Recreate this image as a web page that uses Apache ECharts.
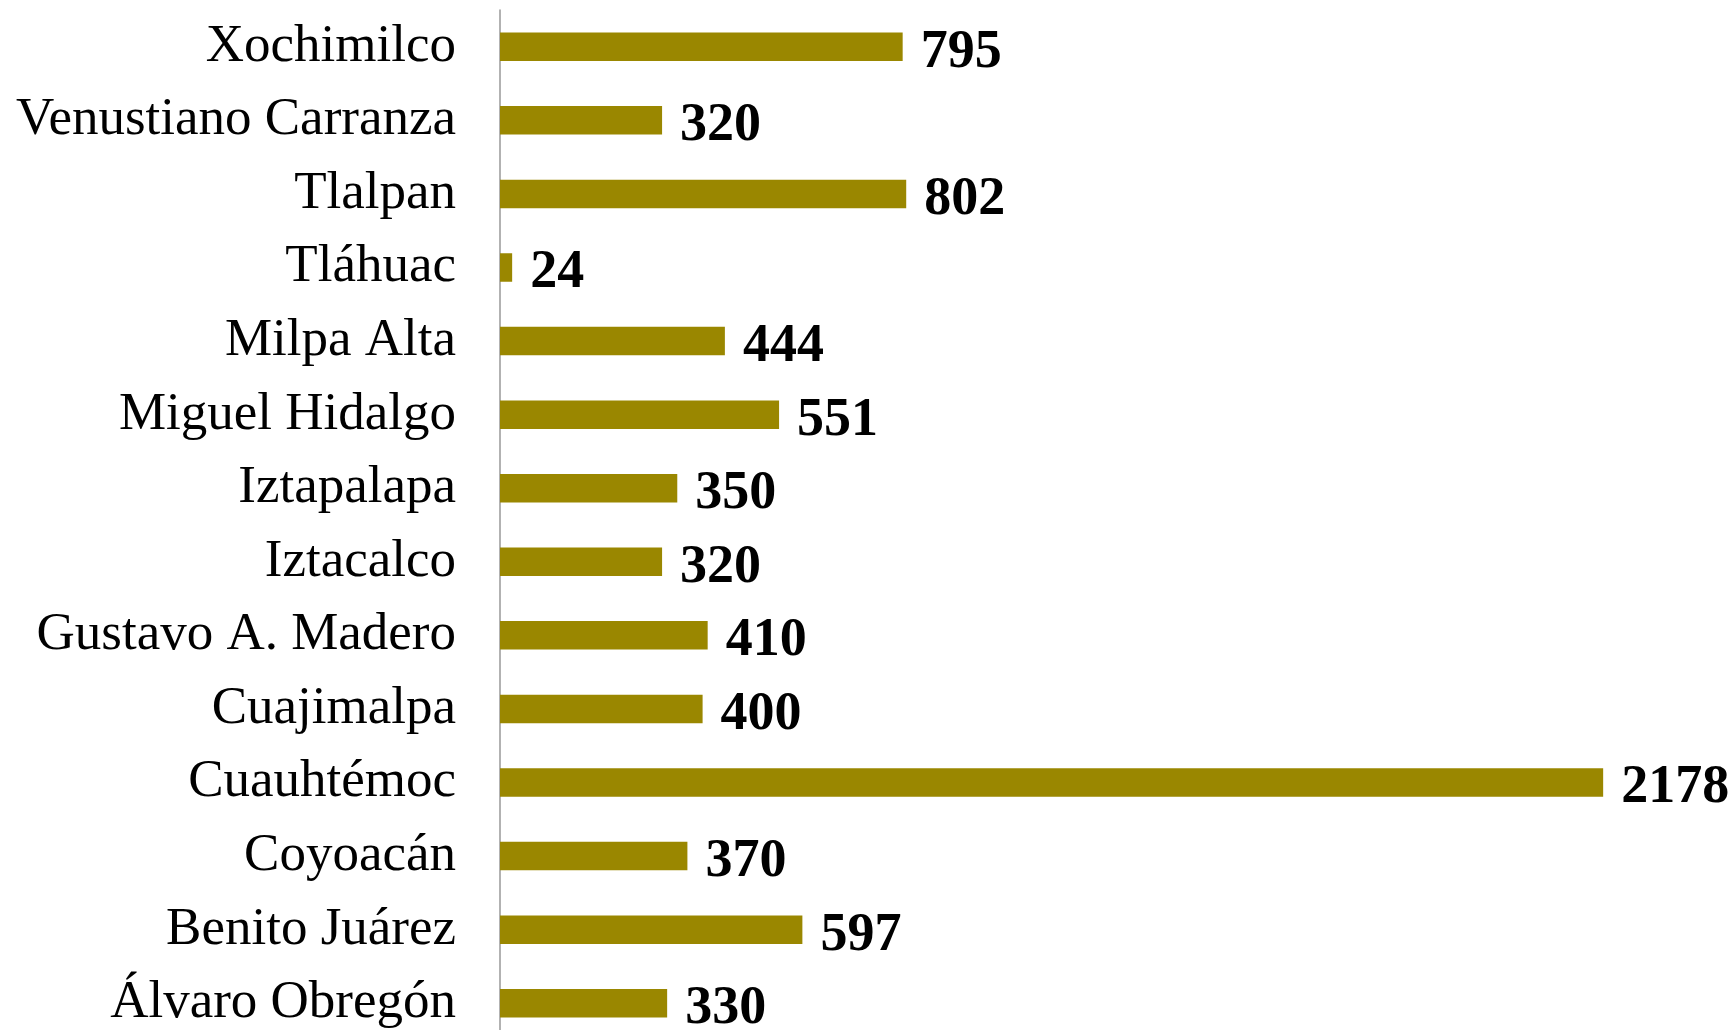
<!DOCTYPE html>
<html>
<head>
<meta charset="utf-8">
<style>html,body{margin:0;padding:0;background:#fff;}#c{width:1735px;height:1030px;}</style>
<script src="https://cdn.jsdelivr.net/npm/echarts@6/dist/echarts.min.js"></script>
</head>
<body>
<div id="c"></div>
<script>
const categories = ["Xochimilco","Venustiano Carranza","Tlalpan","Tláhuac","Milpa Alta","Miguel Hidalgo","Iztapalapa","Iztacalco","Gustavo A. Madero","Cuajimalpa","Cuauhtémoc","Coyoacán","Benito Juárez","Álvaro Obregón"];
const values = [795,320,802,24,444,551,350,320,410,400,2178,370,597,330];
const xMax = 2400;

const chart = echarts.init(document.getElementById('c'));
chart.setOption({
  animation: false,
  backgroundColor: '#ffffff',
  grid: { left: 500, top: 10, width: xMax * 0.5065, height: 1030, outerBoundsMode: 'none', containLabel: false },
  xAxis: { type: 'value', min: 0, max: xMax, show: false },
  yAxis: {
    type: 'category', data: categories, inverse: true,
    axisLine: { show: true, lineStyle: { color: '#999999', width: 1.5 } },
    axisTick: { show: false },
    axisLabel: { fontFamily: 'Liberation Serif', fontSize: 53, color: '#000', margin: 44 }
  },
  series: [{
    type: 'bar', data: values, barWidth: 28.5,
    itemStyle: { color: '#9A8700' },
    label: {
      show: true, position: 'right', distance: 18, offset: [0, 6],
      fontFamily: 'Liberation Serif', fontWeight: 'bold', fontSize: 54, color: '#000'
    }
  }]
});
</script>
</body>
</html>
